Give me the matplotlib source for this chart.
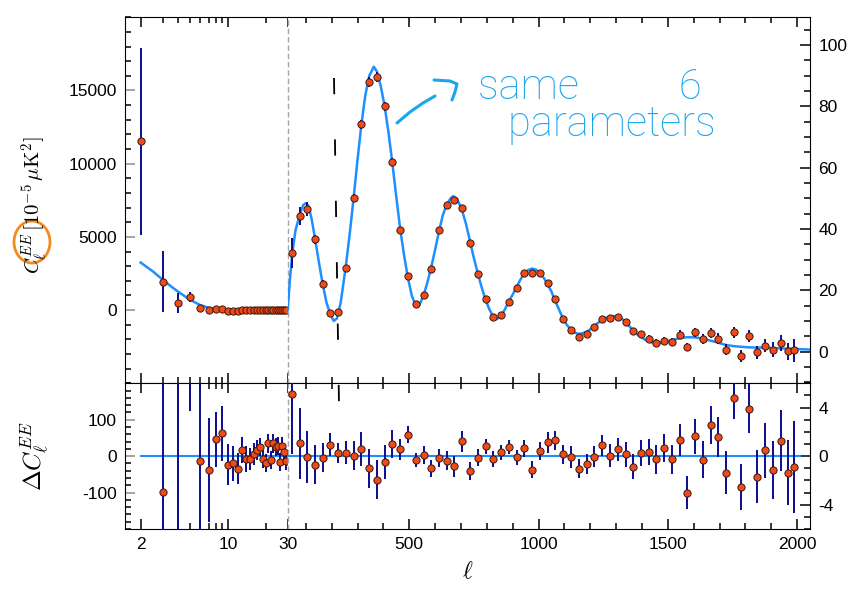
import numpy as np
import matplotlib
matplotlib.use('Agg')
import matplotlib.pyplot as plt
from matplotlib.lines import Line2D
from matplotlib.patches import Ellipse
from matplotlib.ticker import MultipleLocator, FixedLocator, NullFormatter

plt.rcParams['font.family'] = ['Liberation Sans', 'DejaVu Sans']
plt.rcParams['mathtext.fontset'] = 'cm'
plt.rcParams['axes.unicode_minus'] = False

# ---- low-ell data (units of 1e-5 uK^2) ----
ell_lo = [2, 3, 4, 5, 6, 7, 8, 9, 10, 11, 12, 13, 14, 15, 16, 17, 18, 19, 20,
          21, 22, 23, 24, 25, 26, 27, 28, 29]
cl_lo = [11530, 1950, 500, 900, 120, 20, 60, 60, -40, -30, -40, 20, -10, 0, 10,
         20, 30, 0, -10, 40, -5, 40, 30, 30, -10, 30, 15, -10]
err_lo = [6400, 2060, 700, 340, 100, 100, 80, 75, 57, 48, 43, 35, 36, 30, 30,
          27, 25, 25, 25, 25, 25, 25, 25, 25, 25, 25, 25, 25]
res_lo = [8250, -98, -300, 300, -12, -37, 46, 63, -23, -19, -34, 17, -8, -8, 7,
          16, 26, -8, -18, 35, -10, 35, 26, 27, -15, 28, 11, -14]
res_err_lo = [6400, 2060, 700, 175, 300, 143, 76, 75, 57, 48, 43, 35, 36, 30, 30,
              27, 25, 25, 25, 25, 25, 25, 25, 25, 25, 25, 25, 25]

# best-fit curve, low ell
ell_lo_model = [2, 2.5, 3, 3.5, 4, 5, 6, 7, 8, 9, 10, 12, 15, 20, 25, 30]
cl_lo_model = [3250, 2650, 2080, 1620, 1250, 690, 340, 160, 75, 38, 20, 8, 3, 1, 0, 0]

# ---- high-ell binned data (uK^2) ----
ell_hi = [47, 76, 106, 136, 165, 195, 224, 254, 285, 315, 346, 375, 405, 434, 465,
          495, 526, 556, 585, 616, 645, 674, 704, 735, 766, 795, 825, 855, 884, 915,
          945, 976, 1005, 1035, 1065, 1096, 1125, 1155, 1186, 1215, 1245, 1276, 1306,
          1337, 1366, 1396, 1426, 1456, 1486, 1517, 1546, 1576, 1606, 1635, 1666,
          1696, 1726, 1755, 1785, 1816, 1845, 1876, 1905, 1936, 1965, 1990]
cl_hi = [32.2, 44.3, 46.5, 36.6, 22.1, 12.7, 13.1, 27.4, 50.2, 74.1, 87.9, 89.5,
         80.0, 61.9, 39.8, 24.6, 15.4, 18.6, 27.0, 39.6, 47.8, 49.5, 47.0, 35.3,
         25.3, 17.1, 11.3, 11.9, 16.2, 20.8, 25.8, 25.8, 25.8, 22.4, 17.1, 10.8,
         7.2, 4.95, 5.9, 8.2, 10.8, 11.0, 11.3, 9.6, 6.8, 5.7, 4.2, 2.9, 3.6, 3.2,
         5.6, 1.6, 6.3, 4.1, 6.1, 4.3, 0.7, 6.3, -1.4, 5.2, -0.2, 2.0, 0.7, 2.8,
         0.1, 0.4]
res_hi = [5.09, 1.05, -0.08, -0.69, -0.13, 0.94, 0.25, 0.28, 0.03, 0.58, -0.99,
          -1.93, -0.52, 0.97, 0.55, 1.77, -0.30, 0.12, -0.99, -0.13, -0.36, -0.85,
          1.21, -1.21, -0.13, 0.80, -0.27, 0.31, 0.77, -0.08, 0.66, -1.12, 0.44,
          1.13, 1.30, 0.14, -0.08, -1.04, -0.65, -0.03, 0.88, 0.03, 0.55, 0.14,
          -0.88, 0.22, 0.33, -0.27, 0.66, -0.25, 1.36, -3.0, 1.65, -0.30, 2.54,
          1.55, -1.35, 4.79, -2.56, 3.92, -1.68, 0.47, -1.12, 1.27, -1.35, -0.88]
err_hi = [4.9, 2.9, 2.15, 1.6, 1.2, 0.93, 0.85, 0.95, 1.2, 1.4, 1.6, 1.6, 1.4, 1.15,
          0.87, 0.72, 0.6, 0.75, 0.7, 0.73, 0.77, 0.85, 0.83, 0.76, 0.7, 0.65, 0.66,
          0.62, 0.6, 0.62, 0.69, 0.72, 0.76, 0.85, 0.81, 0.81, 0.9, 0.77, 0.8, 0.9,
          0.9, 0.96, 0.98, 1.0, 1.03, 1.07, 1.09, 1.17, 1.17, 1.2, 1.32, 1.35, 1.45,
          1.54, 1.58, 1.65, 1.75, 1.77, 1.9, 2.0, 2.16, 2.25, 2.4, 2.5, 2.7, 3.8]

# best-fit curve, high ell
ell_hi_model = [30, 38, 48, 60, 76, 90, 100, 110, 122, 136, 150, 165, 180, 195, 208,
                220, 235, 254, 270, 285, 300, 315, 330, 345, 363, 375, 390, 405, 420,
                434, 450, 465, 480, 495, 510, 525, 540, 556, 570, 585, 600, 616, 630,
                645, 660, 670, 685, 704, 720, 735, 750, 766, 780, 795, 810, 825, 838,
                855, 870, 884, 900, 915, 930, 945, 960, 975, 990, 1005, 1020, 1035,
                1050, 1065, 1080, 1095, 1110, 1125, 1140, 1155, 1170, 1186, 1200, 1215,
                1230, 1245, 1260, 1276, 1290, 1305, 1320, 1336, 1350, 1366, 1380, 1396,
                1410, 1425, 1440, 1456, 1470, 1485, 1500, 1516, 1530, 1546, 1560, 1576,
                1598, 1620, 1640, 1666, 1696, 1725, 1755, 1785, 1816, 1845, 1876, 1905,
                1935, 1965, 1990, 2020, 2050]
cl_hi_model = [13.5, 23.0, 32.2, 39.5, 44.5, 47.8, 48.4, 47.6, 43.5, 36.8, 29.5, 22.2,
               16.0, 12.2, 10.0, 10.8, 16.0, 27.4, 38.5, 50.2, 62.5, 74.0, 83.5, 89.8,
               92.9, 91.3, 86.5, 80.0, 71.3, 62.0, 50.5, 40.0, 31.5, 24.0, 18.3, 15.0,
               15.3, 18.5, 22.5, 27.5, 33.2, 39.6, 44.5, 48.0, 50.0, 50.7, 49.8, 46.2,
               41.5, 36.0, 30.5, 25.3, 21.0, 17.0, 13.8, 11.4, 10.6, 11.6, 13.8, 16.2,
               18.6, 21.0, 23.5, 25.5, 26.6, 27.1, 26.8, 25.6, 24.1, 22.0, 19.6, 16.5,
               13.6, 10.8, 8.7, 7.2, 6.2, 5.8, 6.0, 6.5, 7.3, 8.3, 9.4, 10.3, 11.0,
               11.4, 11.6, 11.5, 10.9, 9.8, 8.4, 7.0, 5.8, 4.8, 4.0, 3.4, 3.0, 2.9,
               2.9, 3.1, 3.4, 3.8, 4.1, 4.4, 4.6, 4.7, 4.7, 4.5, 4.1, 3.6, 2.9, 2.2,
               1.8, 1.6, 1.4, 1.35, 1.3, 1.2, 1.1, 1.0, 0.9, 0.8, 0.7]

W, H = 858, 596
fig = plt.figure(figsize=(W / 100, H / 100), dpi=100)

def fx(x):
    return x / W

def fy(y):
    return 1 - y / H

left, split, right = fx(125), fx(287.7), fx(810)
top, mid, bot = fy(17.3), fy(383.3), fy(529)

ax_lo = fig.add_axes([left, mid, split - left, top - mid])
ax_hi = fig.add_axes([split, mid, right - split, top - mid])
rx_lo = fig.add_axes([left, bot, split - left, mid - bot])
rx_hi = fig.add_axes([split, bot, right - split, mid - bot])

curve_c = '#1E8FFF'
bar_c = '#0B0B8E'
pt_face = '#F04A18'
pt_edge = '#3A1A10'
ebkw = dict(fmt='o', ms=5.2, mfc=pt_face, mec=pt_edge, mew=0.7,
            ecolor=bar_c, elinewidth=1.4, capsize=0, zorder=4)

# top panels
ax_lo.plot(ell_lo_model, cl_lo_model, color=curve_c, lw=1.8, zorder=3)
ax_lo.errorbar(ell_lo, cl_lo, yerr=err_lo, **ebkw)
ax_hi.plot(ell_hi_model, cl_hi_model, color=curve_c, lw=1.8, zorder=3)
ax_hi.errorbar(ell_hi, cl_hi, yerr=err_hi, **ebkw)

# residual panels
rx_lo.plot([ell_lo[0], 30], [0, 0], color=curve_c, lw=1.5, zorder=3)
rx_lo.errorbar(ell_lo, res_lo, yerr=res_err_lo, **ebkw)
rx_hi.plot([30, 2010], [0, 0], color=curve_c, lw=1.5, zorder=3)
rx_hi.errorbar(ell_hi, res_hi, yerr=err_hi, **ebkw)

for a in (ax_lo, rx_lo):
    a.set_xscale('log')
    a.set_xlim(1.5, 30)
    a.xaxis.set_major_locator(FixedLocator([2, 10, 30]))
    a.xaxis.set_minor_locator(FixedLocator([3, 4, 5, 6, 7, 8, 9, 20]))
    a.xaxis.set_minor_formatter(NullFormatter())
    a.set_xticklabels(['2', '10', '30'])
    a.spines['right'].set_visible(False)
for a in (ax_hi, rx_hi):
    a.set_xlim(30, 2050)
    a.xaxis.set_major_locator(FixedLocator([500, 1000, 1500, 2000]))
    a.xaxis.set_minor_locator(MultipleLocator(100))
    a.spines['left'].set_linestyle((0, (3, 3)))
    a.spines['left'].set_color('0.65')
    a.spines['left'].set_linewidth(1.0)
    a.yaxis.tick_right()

ax_lo.set_ylim(-5000, 20000)
ax_lo.yaxis.set_major_locator(FixedLocator([0, 5000, 10000, 15000]))
ax_lo.yaxis.set_minor_locator(MultipleLocator(1000))
ax_hi.set_ylim(-10.3, 109)
ax_hi.yaxis.set_major_locator(MultipleLocator(20))
ax_hi.yaxis.set_minor_locator(MultipleLocator(5))
rx_lo.set_ylim(-200, 200)
rx_lo.yaxis.set_major_locator(FixedLocator([-100, 0, 100]))
rx_lo.yaxis.set_minor_locator(MultipleLocator(20))
rx_hi.set_ylim(-6, 6)
rx_hi.yaxis.set_major_locator(FixedLocator([-4, 0, 4]))
rx_hi.yaxis.set_minor_locator(MultipleLocator(1))

for a in (ax_lo, ax_hi, rx_lo, rx_hi):
    for s in a.spines.values():
        if s.get_linestyle() == '-':
            s.set_linewidth(1.2)
    a.tick_params(which='both', direction='in', top=True, bottom=True,
                  labelsize=12.5, width=1.1, pad=6)
    a.tick_params(which='major', length=7)
    a.tick_params(which='minor', length=4)
for a in (ax_lo, ax_hi):
    a.tick_params(axis='x', labelbottom=False)
for a in (ax_lo, rx_lo):
    a.tick_params(axis='y', which='major', color='0.55')
for a in (ax_hi, rx_hi):
    a.tick_params(axis='y', which='both', left=False, right=True)
rx_lo.set_yticklabels(['-100', '0', '100'])
rx_hi.set_yticklabels(['-4', '0', '4'])

# axis labels
fig.text(fx(35), fy(205), r'$C_\ell^{EE}\,[10^{-5}\,\mu{\rm K}^2]$', rotation=90,
         ha='center', va='center', fontsize=15)
fig.text(fx(35), fy(456), r'$\Delta C_\ell^{EE}$', rotation=90,
         ha='center', va='center', fontsize=18)
fig.text(fx(468), fy(572), r'$\ell$', ha='center', va='center', fontsize=17)

# hand-drawn annotations
fig.add_artist(Ellipse((fx(32), fy(242)), 36 / W, 42 / H, angle=0,
                       transform=fig.transFigure, fill=False,
                       edgecolor='#F58A1F', lw=2))
fig.add_artist(Line2D([fx(334), fx(339)], [fy(78), fy(405)],
                      transform=fig.transFigure, color='black', lw=1.3,
                      dashes=(9, 25)))
hand_c = '#1AA6EE'
fig.add_artist(Line2D([fx(397), fx(410), fx(423), fx(435)],
                      [fy(123), fy(112), fy(103), fy(96)],
                      transform=fig.transFigure, color=hand_c, lw=2.2,
                      solid_capstyle='round'))
fig.add_artist(Line2D([fx(434), fx(450), fx(457), fx(455), fx(452)],
                      [fy(80), fy(81), fy(84), fy(92), fy(100)],
                      transform=fig.transFigure, color=hand_c, lw=2.2,
                      solid_capstyle='round'))
fig.text(fx(478), fy(106), 'same          6\n   parameters', color=hand_c,
         fontsize=30, family='Roboto', weight='light', ha='left', va='center',
         linespacing=0.85)

fig.savefig('out.png', dpi=100)
